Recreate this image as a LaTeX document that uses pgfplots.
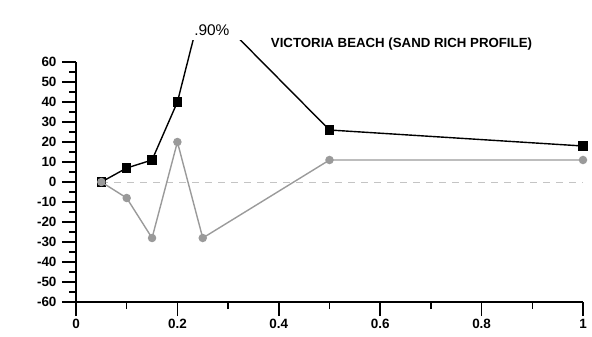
\documentclass[border=0pt]{standalone}
\usepackage{pgfplots}
\pgfplotsset{compat=1.18}
\usepackage{fontspec}
\setmainfont{Liberation Sans}
\definecolor{grey1}{HTML}{9A9A9A}
\definecolor{zeroc}{HTML}{C4C4C4}
\begin{document}
\begin{tikzpicture}
\begin{axis}[
  x=507bp, y=2bp,
  xmin=0, xmax=1, ymin=-60, ymax=71,
  axis lines=left,
  axis line style={-, line width=1.6bp},
  y axis line style={draw=none},
  xtick={0,0.2,0.4,0.6,0.8,1},
  minor xtick={0.1,0.3,0.5,0.7,0.9},
  ytick={-60,-50,...,60},
  minor ytick={-55,-45,...,55},
  tick align=outside,
  major tick length=14bp,
  minor tick length=7bp,
  every tick/.style={black, line width=1.6bp},
  tick label style={font=\fontsize{13.5}{15}\selectfont\bfseries},
  yticklabel style={xshift=-2bp},
  /pgf/number format/assume math mode=true,
  clip mode=individual,
]
\addplot[zeroc, line width=0.8bp, dash pattern=on 7bp off 6bp] coordinates {(0.05,0) (1,0)};
\addplot[black, line width=1.4bp, mark=square*, mark size=4bp] coordinates {
(0.05,0) (0.1,7) (0.15,11) (0.2,40) (0.25,90) (0.5,26) (1,18)};
\addplot[grey1, line width=1.4bp, mark=*, mark size=3.5bp] coordinates {
(0.05,0) (0.1,-8) (0.15,-28) (0.2,20) (0.25,-28) (0.5,11) (1,11)};
\draw[black, line width=1.6bp] (axis cs:0,-60) -- (axis cs:0,60);
\node[fill=white, inner sep=3bp, font=\fontsize{15.5}{17}\selectfont] at (axis cs:0.268,76) {.90\%};
\node[font=\fontsize{13.3}{15}\selectfont\bfseries] at (axis cs:0.642,69) {VICTORIA BEACH (SAND RICH PROFILE)};
\end{axis}
\useasboundingbox (-76bp,-35bp) rectangle (516bp,302bp);
\end{tikzpicture}
\end{document}
